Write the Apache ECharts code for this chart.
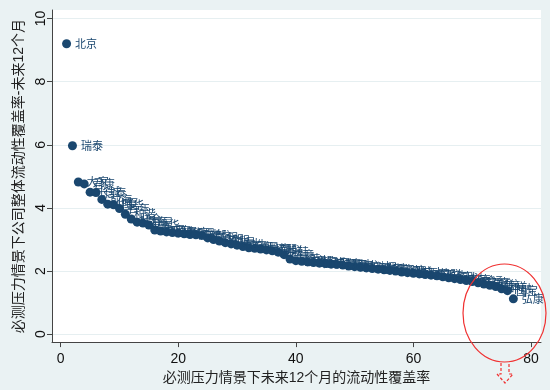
<!DOCTYPE html>
<html>
<head>
<meta charset="utf-8">
<script src="https://cdn.jsdelivr.net/npm/echarts@6/dist/echarts.min.js"></script>
<style>
html,body{margin:0;padding:0;background:#eaf2f3;}
#c{width:550px;height:390px;}
</style>
</head>
<body>
<div id="c"></div>
<script>
var names = ['北京','瑞泰','大家','君康','长城','信泰','前海','华夏','国华','百年',
 '和谐','联合','渤海','复星','中华','太平','平安','国寿','新华','泰康',
 '人保','阳光','中邮','建信','工银','交银','农银','三星','光大','民生',
 '天安','东吴','珠江','上海','横琴','国联','中韩','中意','中英','招商',
 '友邦','中宏','信诚','恒安','同方','联泰','国泰','汇丰','君龙','爱心',
 '三峡','海保','德华','华贵','国富','保德','小康','鼎诚','华汇','英大',
 '中荷','方正','安联','长生','利安','恒大','中法','和泰','合众','幸福',
 '富德','生命','财信','吉祥','中融','国宝','弘康'];
var ranks = [1,2,3,4,5,6,7,8,9,10,11,12,13,14,15,16,17,18,19,20,
 21,22,23,24,25,26,27,28,29,30,31,32,33,34,35,36,37,38,39,40,
 41,42,43,44,45,46,47,48,49,50,51,52,53,54,55,56,57,58,59,60,
 61,62,63,64,65,66,67,68,69,70,71,72,73,74,75,76,77];
var values = [9.20,5.97,4.82,4.76,4.50,4.49,4.27,4.12,4.10,3.98,
 3.80,3.65,3.55,3.52,3.46,3.30,3.27,3.24,3.22,3.20,
 3.18,3.16,3.15,3.13,3.05,3.00,2.95,2.90,2.86,2.82,
 2.78,2.74,2.72,2.70,2.67,2.64,2.60,2.52,2.38,2.33,
 2.31,2.29,2.27,2.25,2.24,2.22,2.21,2.19,2.16,2.14,
 2.12,2.10,2.08,2.06,2.04,2.02,2.00,1.97,1.95,1.93,
 1.91,1.89,1.87,1.85,1.82,1.79,1.76,1.73,1.70,1.67,
 1.63,1.59,1.55,1.51,1.44,1.38,1.12];
var xTicks = [0,20,40,60,80];
var yTicks = [0,2,4,6,8,10];
var xTitle = '必测压力情景下未来12个月的流动性覆盖率';
var yTitle = '必测压力情景下公司整体流动性覆盖率-未来12个月';

var navy = '#1a476f';
var font = '"Liberation Sans","Noto Sans CJK SC",sans-serif';
var data = ranks.map(function(r,i){ return {value:[r, values[i]], name:names[i]}; });

var chart = echarts.init(document.getElementById('c'));
chart.setOption({
  backgroundColor:'#eaf2f3',
  animation:false,
  textStyle:{fontFamily:font},
  grid:{left:52,right:9,top:10,bottom:44,show:true,backgroundColor:'#ffffff',borderWidth:0},
  xAxis:{
    type:'value', min:-1.48, max:81.7,
    name:xTitle, nameLocation:'middle', nameGap:27,
    nameTextStyle:{fontSize:14,color:'#222',fontFamily:font},
    axisLine:{show:true,onZero:false,lineStyle:{color:'#444',width:1}},
    axisTick:{show:true,length:5,customValues:xTicks,lineStyle:{color:'#444'}},
    axisLabel:{customValues:xTicks,fontSize:14,color:'#111',margin:10,fontFamily:font},
    splitLine:{show:false}
  },
  yAxis:{
    type:'value', min:-0.25, max:10.27,
    name:yTitle, nameLocation:'middle', nameGap:14, nameRotate:90,
    nameTextStyle:{fontSize:14,color:'#222',fontFamily:font},
    axisLine:{show:true,onZero:false,lineStyle:{color:'#444',width:1}},
    axisTick:{show:true,length:5,customValues:yTicks,lineStyle:{color:'#444'}},
    axisLabel:{customValues:yTicks,fontSize:14,color:'#111',margin:4,rotate:90,fontFamily:font},
    splitLine:{show:false}
  },
  series:[{
    type:'scatter',
    data:data,
    symbolSize:9,
    itemStyle:{color:navy,opacity:1},
    label:{show:true,position:'right',distance:4,formatter:'{b}',fontSize:11,color:navy,fontFamily:'"Noto Sans CJK SC",sans-serif'},
    markLine:{
      silent:true, symbol:['none','none'], label:{show:false},
      lineStyle:{color:'#e6eff1',type:'solid',width:1},
      data: yTicks.map(function(v){ return {yAxis:v}; }),
      z:0
    },
    z:3
  }],
  graphic:[
    {type:'ellipse', shape:{cx:504.5, cy:313, rx:41.5, ry:49}, style:{fill:null, stroke:'#f03030', lineWidth:1.2}, z:100},
    {type:'polyline', shape:{points:[[501,363],[501,374],[497,374],[505,383],[513,374],[509,374],[509,363]]}, style:{fill:null, stroke:'#f03030', lineWidth:1.2, lineDash:[3,2]}, z:100}
  ]
});
</script>
</body>
</html>
